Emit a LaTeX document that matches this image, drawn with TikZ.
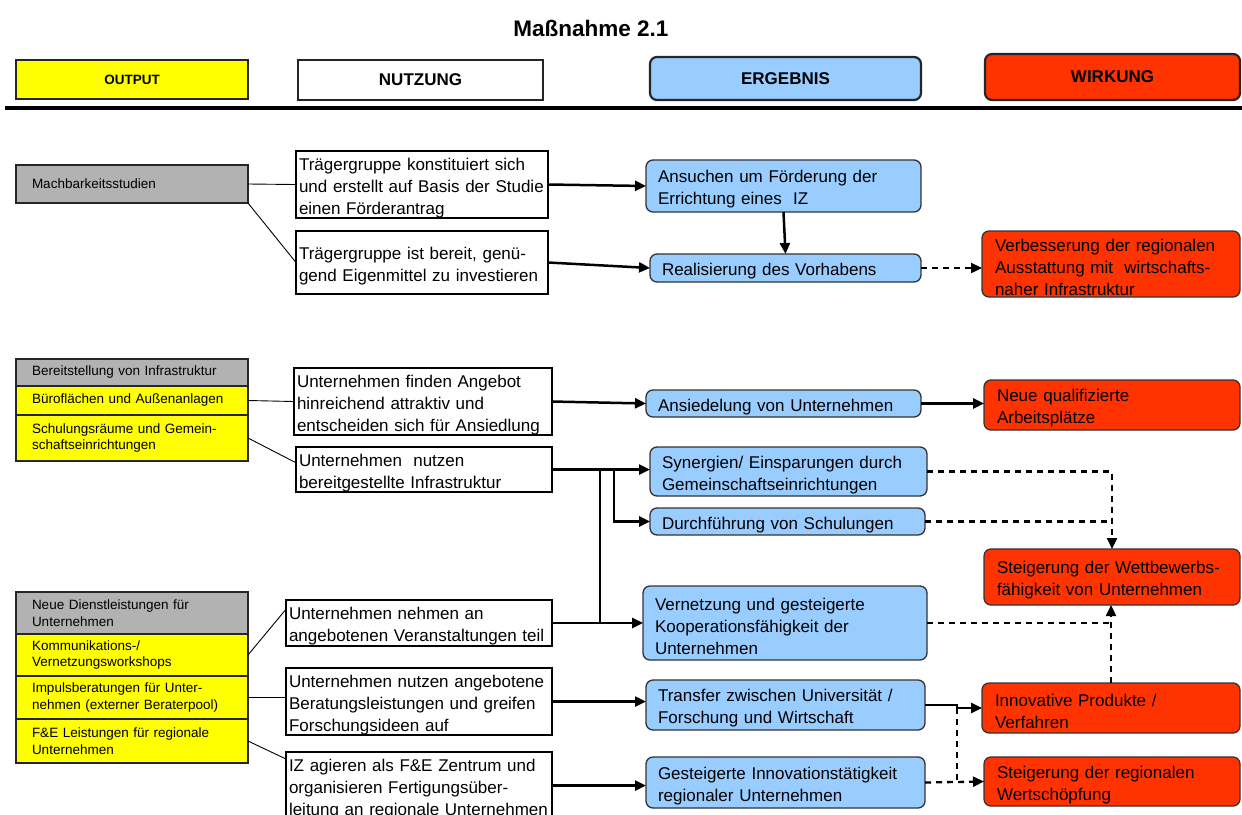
\documentclass[tikz,border=0pt]{standalone}
\usepackage{fontspec}
\setmainfont{Liberation Sans}
\usetikzlibrary{arrows.meta,calc}
\definecolor{outy}{HTML}{FFFF00}
\definecolor{outg}{HTML}{B2B2B2}
\definecolor{ergb}{HTML}{99CCFF}
\definecolor{wirr}{HTML}{FF3300}
\tikzset{
  base/.style={anchor=north west, align=left, inner ysep=0pt, outer sep=0pt,
    font=\fontsize{17}{22}\selectfont},
  lowtext/.style={execute at begin node={\noindent\rule{0pt}{19.5pt}}},
  nbox/.style={base, lowtext, draw=black, line width=1.2pt, fill=white, inner xsep=3pt},
  ebox/.style={base, lowtext, draw=black!80, line width=1.3pt, fill=ergb, rounded corners=7pt, inner xsep=12pt},
  wbox/.style={base, lowtext, draw=black!80, line width=1.3pt, fill=wirr, rounded corners=7pt, inner xsep=13pt},
  obox/.style={base, draw=black!85, line width=1.3pt, inner xsep=16pt,
    font=\fontsize{13.5}{16.5}\selectfont, minimum width=232pt, text width=200pt},
  hdr/.style={anchor=north west, align=center, inner sep=0pt, outer sep=0pt, draw=black!85,
    font=\bfseries\fontsize{17}{20}\selectfont},
  thinl/.style={line width=0.9pt},
  arr/.style={line width=2.5pt, -{Triangle[length=11pt,width=10pt]}},
  solidl/.style={line width=2.5pt},
  darr/.style={line width=2.3pt, dash pattern=on 6pt off 5pt, -{Triangle[length=11pt,width=10pt]}},
  dline/.style={line width=2.3pt, dash pattern=on 6pt off 5pt},
}
\begin{document}
\begin{tikzpicture}[x=1pt,y=-1pt]
\useasboundingbox[fill=white] (0,0) rectangle (1242,814);

% title and headers
\node[font=\bfseries\fontsize{22.5}{26}\selectfont] (title) at (591,28) {Maßnahme 2.1};
\node[hdr, fill=outy, line width=1.2pt, minimum width=232pt, minimum height=39pt,
      font=\bfseries\fontsize{13.5}{16}\selectfont] (hout) at (16,60) {OUTPUT};
\node[hdr, fill=white, line width=2.5pt, minimum width=245pt, minimum height=40pt] (hnut) at (298,60) {NUTZUNG};
\node[hdr, fill=ergb, rounded corners=7pt, line width=2.2pt, minimum width=271pt, minimum height=43pt] (herg) at (650,57) {ERGEBNIS};
\node[hdr, fill=wirr, rounded corners=7pt, line width=2.2pt, minimum width=255pt, minimum height=46pt] (hwir) at (985,54) {WIRKUNG};
\draw[line width=4pt] (5,108) -- (1242,108);

% ---------------- block 1
\node[obox, fill=outg, minimum height=38pt] (mach) at (16,165) {Machbarkeitsstudien};
\node[nbox, minimum width=252pt, text width=246pt, minimum height=65pt] (n1) at (296,151)
  {Trägergruppe konstituiert sich\\und erstellt auf Basis der Studie\\einen Förderantrag};
\node[nbox, minimum width=252pt, text width=246pt, minimum height=63pt] (n2) at (296,231)
  {Trägergruppe ist bereit, genü-\\gend Eigenmittel zu investieren};
\node[ebox, minimum width=275pt, text width=251pt, minimum height=52pt] (e1) at (646,160)
  {Ansuchen um Förderung der\\Errichtung eines~ IZ};
\node[ebox, minimum width=271pt, text width=247pt, minimum height=28pt] (e2) at (650,254)
  {Realisierung des Vorhabens};
\node[wbox, minimum width=258pt, text width=232pt, minimum height=66pt] (w1) at (982,231)
  {Verbesserung der regionalen\\Ausstattung mit~ wirtschafts-\\naher Infrastruktur};

% ---------------- block 2
\node[obox, fill=outg, minimum height=27pt] (bi) at (16,359) {Bereitstellung von Infrastruktur};
\node[obox, fill=outy, minimum height=29pt] (bu) at (16,386) {Büroflächen und Außenanlagen};
\node[obox, fill=outy, minimum height=46pt] (sr) at (16,415) {Schulungsräume und Gemein-\\schaftseinrichtungen};
\node[nbox, minimum width=258pt, text width=252pt, minimum height=65pt] (n3) at (294,368)
  {Unternehmen finden Angebot\\hinreichend attraktiv und\\entscheiden sich für Ansiedlung};
\node[nbox, minimum width=256pt, text width=250pt, minimum height=45pt] (n4) at (296,447)
  {Unternehmen~ nutzen\\bereitgestellte Infrastruktur};
\node[ebox, minimum width=275pt, text width=251pt, minimum height=27pt] (e3) at (646,390)
  {Ansiedelung von Unternehmen};
\node[wbox, minimum width=256pt, text width=230pt, minimum height=50pt] (w2) at (984,380)
  {Neue qualifizierte\\Arbeitsplätze};
\node[ebox, minimum width=277pt, text width=253pt, minimum height=49pt] (e4) at (650,447)
  {Synergien/ Einsparungen durch\\Gemeinschaftseinrichtungen};
\node[ebox, minimum width=275pt, text width=251pt, minimum height=27pt] (e5) at (650,508)
  {Durchführung von Schulungen};
\node[wbox, minimum width=256pt, text width=230pt, minimum height=56pt] (w3) at (984,549)
  {Steigerung der Wettbewerbs-\\fähigkeit von Unternehmen};
\node[ebox, minimum width=284pt, text width=260pt, minimum height=74pt] (e6) at (643,586)
  {Vernetzung und gesteigerte\\Kooperationsfähigkeit der\\Unternehmen};

% ---------------- block 3
\node[obox, fill=outg, minimum height=42pt] (nd) at (16,592) {Neue Dienstleistungen für\\Unternehmen};
\node[obox, fill=outy, minimum height=42pt] (kv) at (16,634) {Kommunikations-/\\Vernetzungsworkshops};
\node[obox, fill=outy, minimum height=43pt] (ib) at (16,676) {Impulsberatungen für Unter-\\nehmen (externer Beraterpool)};
\node[obox, fill=outy, minimum height=44pt] (fe) at (16,719) {F\&E Leistungen für regionale\\Unternehmen};
\node[nbox, minimum width=266pt, text width=260pt, minimum height=46pt] (n5) at (286,600)
  {Unternehmen nehmen an\\angebotenen Veranstaltungen teil};
\node[nbox, minimum width=266pt, text width=260pt, minimum height=65pt] (n6) at (286,668)
  {Unternehmen nutzen angebotene\\Beratungsleistungen und greifen\\Forschungsideen auf};
\node[nbox, minimum width=266pt, text width=260pt, minimum height=64pt] (n7) at (286,752)
  {IZ agieren als F\&E Zentrum und\\organisieren Fertigungsüber-\\leitung an regionale Unternehmen};
\node[ebox, minimum width=279pt, text width=255pt, minimum height=50pt] (e7) at (646,680)
  {Transfer zwischen Universität /\\Forschung und Wirtschaft};
\node[ebox, minimum width=279pt, text width=255pt, minimum height=51pt] (e8) at (646,757)
  {Gesteigerte Innovationstätigkeit\\regionaler Unternehmen};
\node[wbox, minimum width=258pt, text width=232pt, minimum height=50pt] (w4) at (982,683)
  {Innovative Produkte /\\Verfahren};
\node[wbox, minimum width=256pt, text width=230pt, minimum height=49pt] (w5) at (984,757)
  {Steigerung der regionalen\\Wertschöpfung};

% ---------------- thin output -> use lines
\draw[thinl] (mach.east) -- (n1.west);
\draw[thinl] (mach.south east) -- (n2.west);
\draw[thinl] (bu.east) -- (n3.west);
\draw[thinl] (sr.east) -- ($(n4.north west)!0.35!(n4.south west)$);
\draw[thinl] (kv.east) -- ($(n5.north west)!0.2!(n5.south west)$);
\draw[thinl] (ib.east) -- (ib.east -| n6.west);
\draw[thinl] (fe.east) -- ($(n7.north west)+(0,7)$);

% ---------------- arrows
\draw[arr] (n1.east) -- (e1.west);
\draw[arr] (n2.east) -- (e2.west);
\draw[arr] (e1.south) -- (e2.north);
\draw[darr] (e2.east) -- (e2.east -| w1.west);
\draw[arr] (n3.east) -- (e3.west);
\draw[arr] (e3.east) -- (e3.east -| w2.west);
\draw[arr] (n4.east) -- (n4.east -| e4.west);
\coordinate (j1) at ($(n4.east)+(48,0)$);
\coordinate (j2) at ($(n4.east)+(62,0)$);
\draw[arr] (j2) |- (e5.west);
\draw[arr] (n5.east) -- (n5.east -| e6.west);
\draw[solidl] (j1) -- (j1 |- n5.east);
\draw[darr] (e4.east) -| (w3.north);
\draw[dline] (e5.east) -- (e5.east -| w3.north);
\draw[dline] (e6.east) -- (e6.east -| w3.south);
\draw[darr] (w4.north) -- (w4.north |- w3.south);
\draw[arr] (n6.east) -- (n6.east -| e7.west);
\draw[arr] (n7.east) -- (n7.east -| e8.west);
\coordinate (j3) at ($(w4.west)+(-25,0)$);
\draw[arr] (e7.east) -- (e7.east -| j3) -- (j3) -- (w4.west);
\draw[dline] (j3) -- (j3 |- e8.east);
\draw[darr] (e8.east) -- (w5.west);
\end{tikzpicture}
\end{document}
